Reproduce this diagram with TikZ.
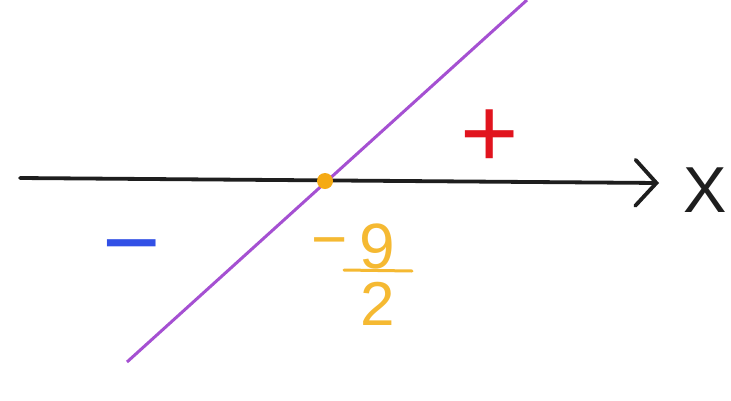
\documentclass[tikz,border=0pt]{standalone}
\usepackage{fontspec}
\setmainfont{Liberation Sans}
\usetikzlibrary{arrows.meta}
\definecolor{axisgray}{RGB}{30,30,30}
\definecolor{linepurple}{RGB}{165,80,210}
\definecolor{dotorange}{RGB}{245,170,20}
\definecolor{fracorange}{RGB}{245,185,50}
\definecolor{signblue}{RGB}{50,80,230}
\definecolor{signred}{RGB}{225,20,30}
\tikzset{
  lbl/.style={inner sep=0pt, anchor=base},
  fracbar/.style={draw=fracorange, line width=3pt, line cap=round}
}
\begin{document}
\begin{tikzpicture}[x=1pt,y=-1pt]
\useasboundingbox[fill=white] (0,0) rectangle (731,400);
\coordinate (axL) at (20,178);
\coordinate (axR) at (659,183);
\draw[axisgray, line width=3.8pt, line cap=round, -{Straight Barb[length=21pt,width=46pt,line cap=round]}] (axL) -- (axR);
\node[lbl, font=\fontsize{65}{70}\selectfont, text=axisgray] (xlab) at (705,212) {X};
\coordinate (pL) at (127,362);
\coordinate (pR) at (527,0);
\draw[linepurple, line width=3pt] (pL) -- (pR);
\node[circle, fill=dotorange, minimum size=16pt, inner sep=0pt] (dot) at (325,181) {};
\node[lbl, font=\fontsize{62}{70}\selectfont, text=fracorange] (fmin) at (330,260) {−};
\node[lbl, font=\fontsize{64}{70}\selectfont, text=fracorange] (nine) at (377,268) {9};
\coordinate (fb1) at (344,270);
\coordinate (fb2) at (412,271);
\draw[fracbar] (fb1) -- (fb2);
\node[lbl, font=\fontsize{62}{70}\selectfont, text=fracorange] (two) at (378,325) {2};
\node[lbl, font=\fontsize{100}{110}\selectfont, text=signblue] (neg) at (132,276) {−};
\node[lbl, font=\fontsize{100}{110}\selectfont, text=signred] (pos) at (490,167) {+};
\end{tikzpicture}
\end{document}
